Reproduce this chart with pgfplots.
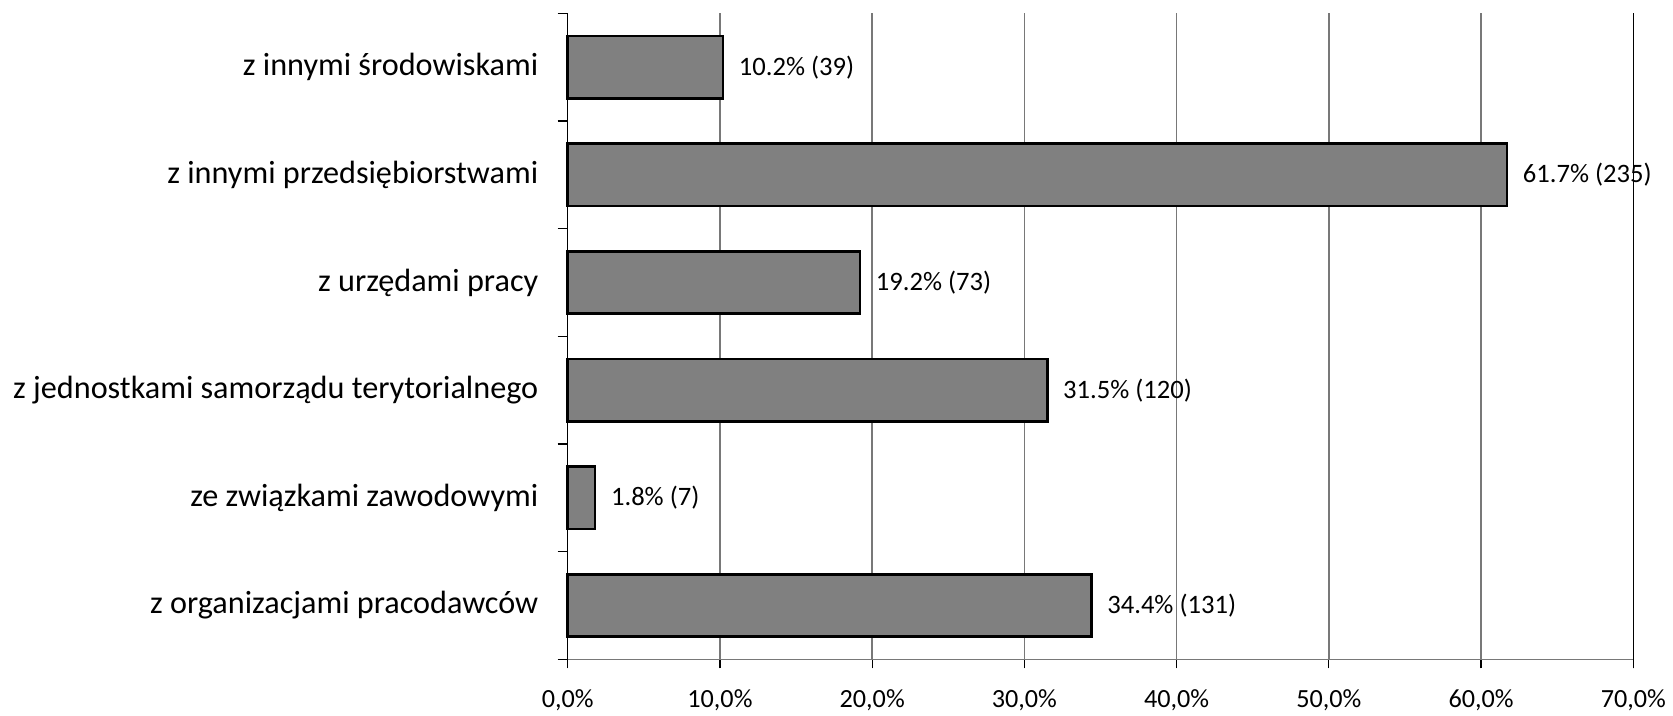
\documentclass[border=0pt]{standalone}
\usepackage{pgfplots}
\pgfplotsset{compat=1.18}
\usepackage{fontspec}
\setmainfont{Carlito}
\begin{document}
\begin{tikzpicture}
\begin{axis}[
  scale only axis,
  width=532.8pt, height=323pt,
  xbar, bar width=0.58,
  xmin=0, xmax=70, ymin=0.5, ymax=6.5,
  axis x line*=bottom, axis y line*=left,
  x axis line style={-, draw={rgb,255:red,120;green,120;blue,120}, line width=0.7pt},
  y axis line style={-, draw=black, line width=0.7pt},
  tick align=outside,
  major tick length=4.5pt,
  minor tick length=5pt,
  xtick={0,10,...,70},
  xticklabels={{0,0\%},{10,0\%},{20,0\%},{30,0\%},{40,0\%},{50,0\%},{60,0\%},{70,0\%}},
  xticklabel style={font=\fontsize{13.1}{15}\selectfont, yshift=-7pt},
  x tick style={draw=black, line width=0.6pt},
  xmajorgrids,
  grid style={draw={rgb,255:red,120;green,120;blue,120}, line width=0.7pt},
  extra x ticks={70},
  extra x tick labels={},
  extra x tick style={grid style={draw=black, line width=0.7pt}},
  ytick={1,2,3,4,5,6},
  yticklabels={z organizacjami pracodawców, ze związkami zawodowymi, z jednostkami samorządu terytorialnego, z urzędami pracy, z innymi przedsiębiorstwami, z innymi środowiskami},
  yticklabel style={font=\fontsize{16.1}{18}\selectfont, xshift=-6.7pt},
  major y tick style={draw=none},
  minor ytick={0.5,1.5,...,6.5},
  minor y tick style={draw=black, line width=0.6pt},
  point meta=explicit symbolic,
  nodes near coords={\pgfplotspointmeta},
  nodes near coords align={horizontal},
  every node near coord/.append style={font=\fontsize{13.3}{15}\selectfont, anchor=west, xshift=4pt, text=black},
  clip=false,
]
\addplot[fill={rgb,255:red,128;green,128;blue,128}, draw=black, line width=1.3pt] coordinates {
  (34.4,1) [34.4\% (131)]
  (1.8,2) [1.8\% (7)]
  (31.5,3) [31.5\% (120)]
  (19.2,4) [19.2\% (73)]
  (61.7,5) [61.7\% (235)]
  (10.2,6) [10.2\% (39)]
};
\coordinate (sw) at (rel axis cs:0,0);
\coordinate (ne) at (rel axis cs:1,1);
\end{axis}
\pgfresetboundingbox
\path[use as bounding box] ([shift={(-283.85pt,-28.35pt)}]sw) rectangle ([shift={(19.85pt,6.65pt)}]ne);
\end{tikzpicture}
\end{document}
